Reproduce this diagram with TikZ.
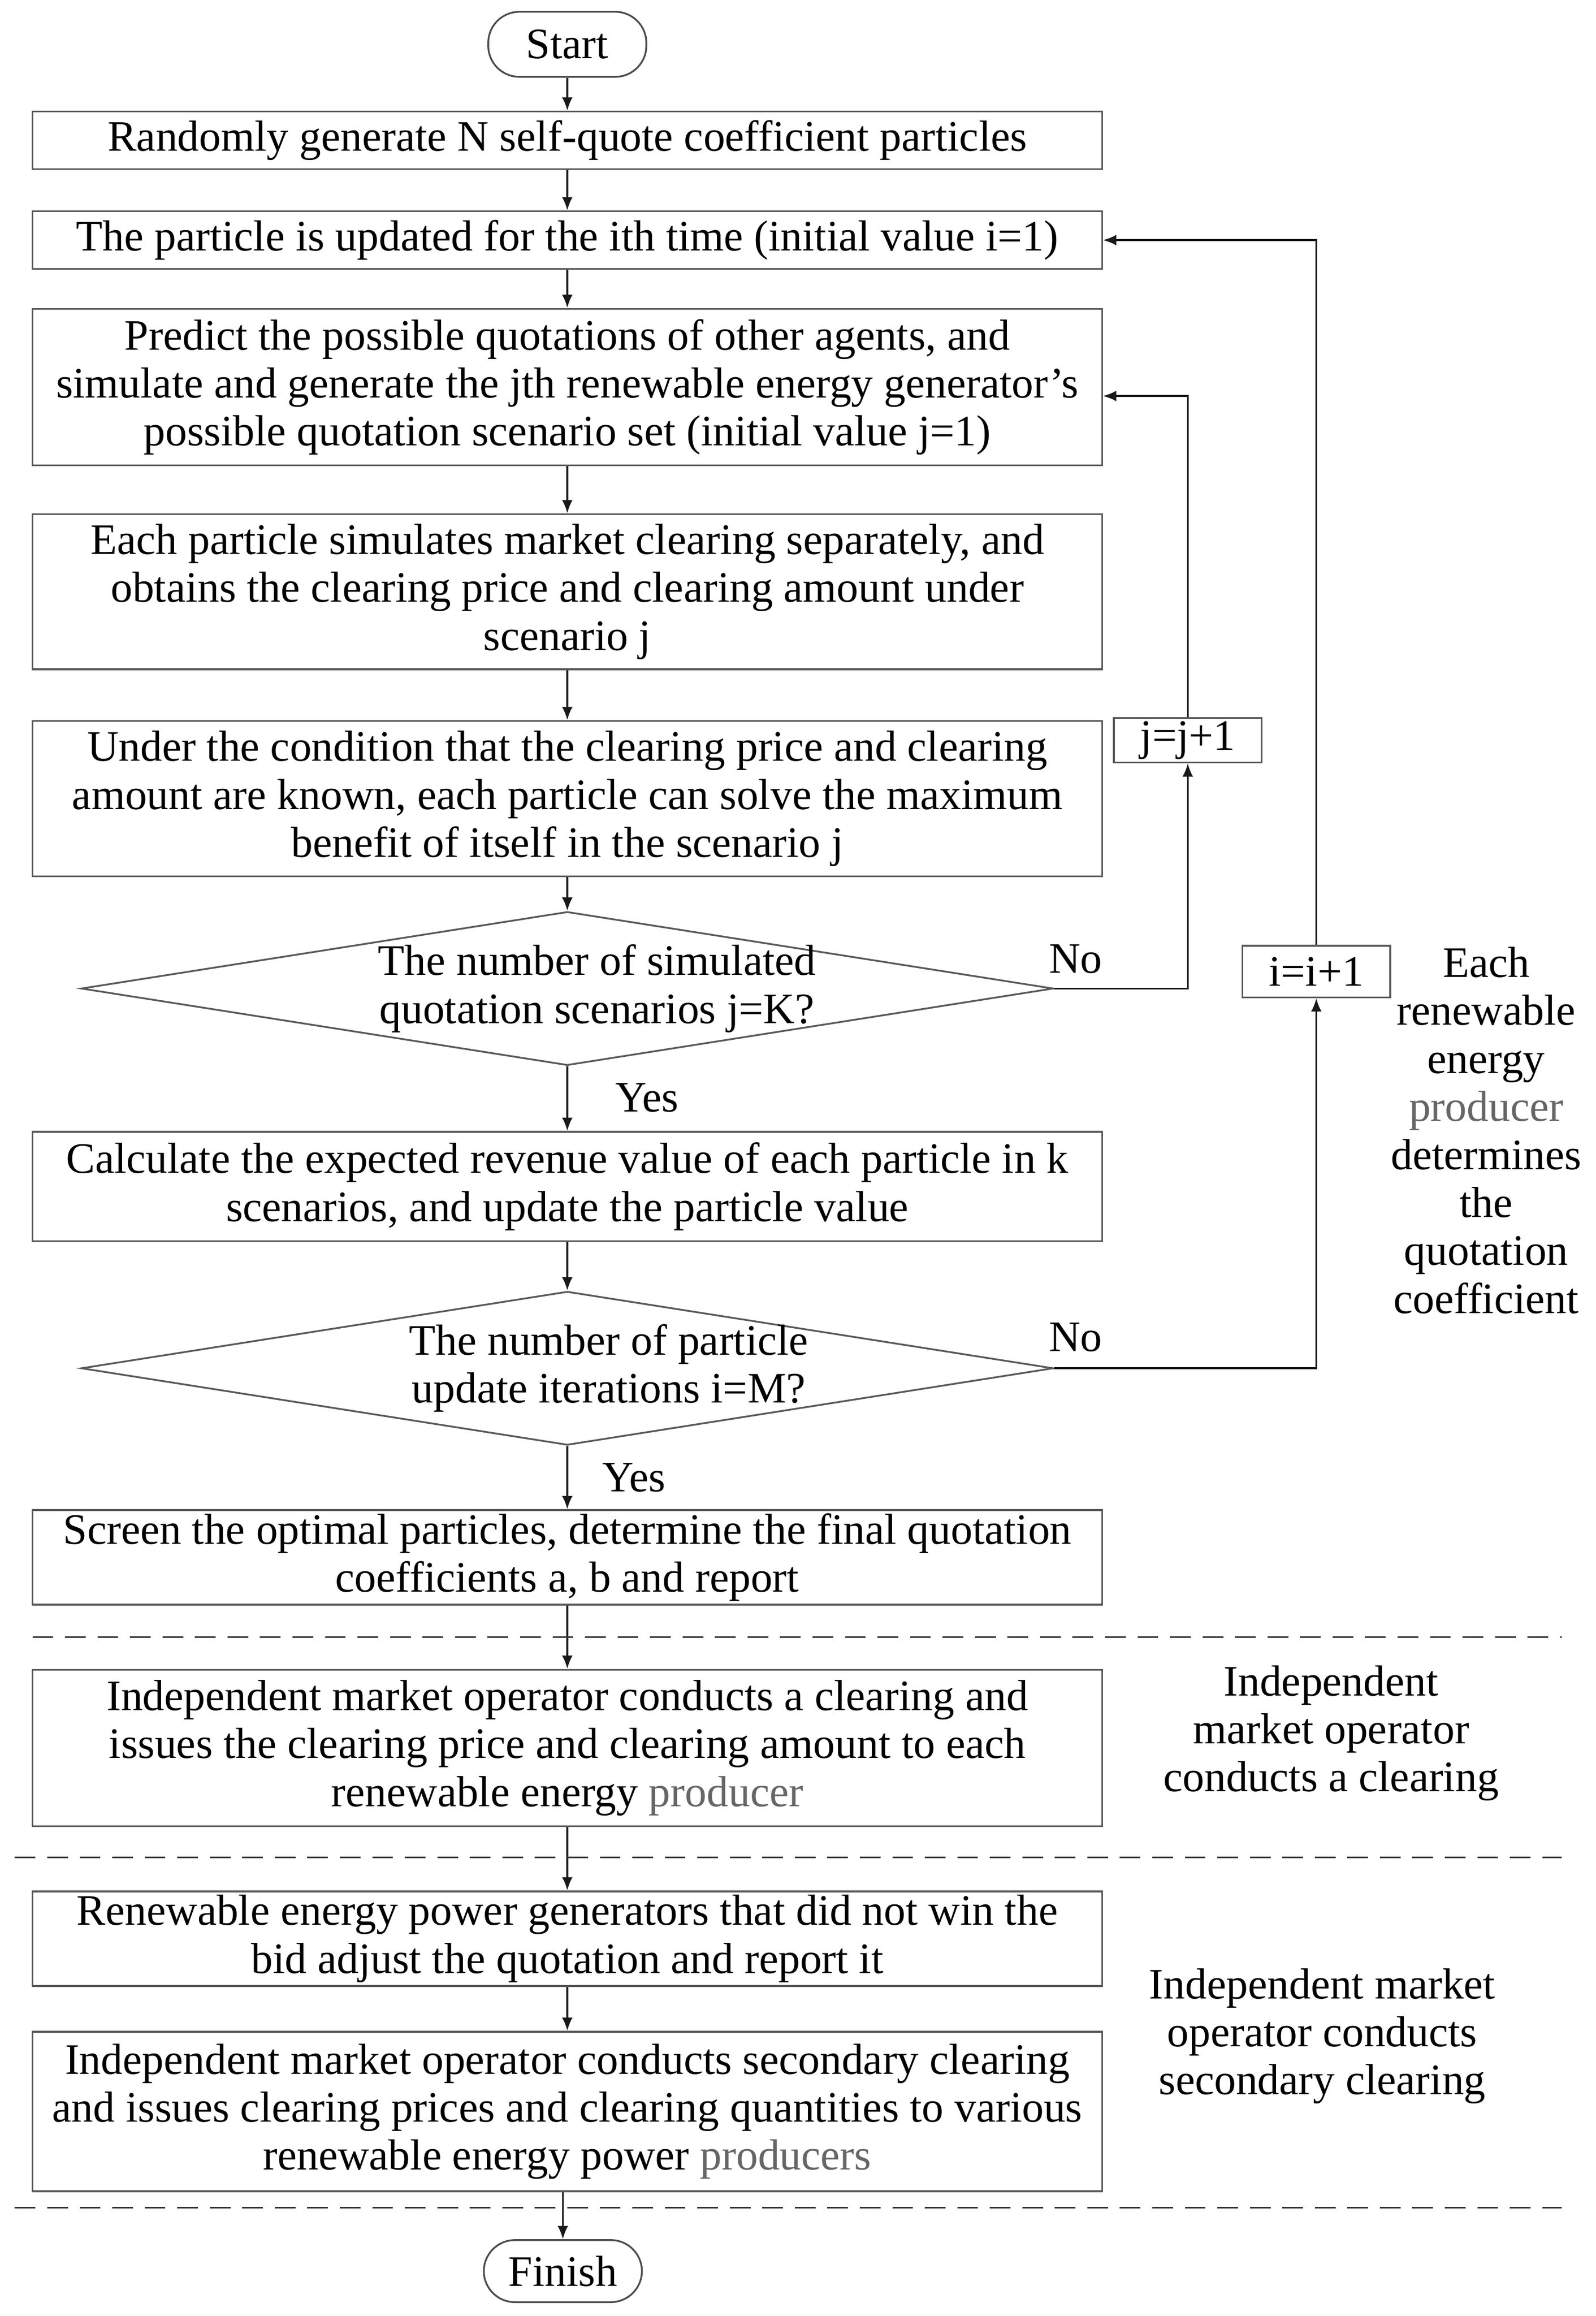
\documentclass[tikz,border=0pt]{standalone}
\usepackage{fontspec}
\setmainfont{Liberation Serif}
\usetikzlibrary{arrows.meta,shapes.geometric}
\begin{document}
\begin{tikzpicture}[x=0.5pt,y=-0.5pt,
  txt/.style={font=\fontsize{14.7}{16.25}\selectfont, inner sep=0pt, align=center},
  box/.style={txt, draw=black!65, line width=0.6pt, minimum width=362pt},
  term/.style={txt, draw=black!70, line width=0.6pt, rounded corners=10.5pt, minimum width=53.5pt},
  dia/.style={diamond, draw=black!65, line width=0.6pt, inner sep=0pt, minimum width=329pt, minimum height=52pt},
  small/.style={txt, draw=black!65, line width=0.6pt, minimum width=50pt, minimum height=15pt},
  arr/.style={-{Latex[length=4.5pt,width=3.6pt]}, line width=0.6pt, black!90},
  sep/.style={dash pattern=on 7pt off 4pt, line width=0.6pt, black!80},
  ann/.style={txt}
]
\useasboundingbox (0,0) rectangle (1080,1567.4);

\node[term, minimum height=22pt] (start) at (384,30) {Start};
\node[box, minimum height=19.5pt] (b1) at (384,95) {Randomly generate N self-quote coefficient particles};
\node[box, minimum height=19.5pt] (b2) at (384,162.5) {The particle is updated for the ith time (initial value i=1)};
\node[box, minimum height=53pt] (b3) at (384,262) {Predict the possible quotations of other agents, and\\simulate and generate the jth renewable energy generator's\\possible quotation scenario set (initial value j=1)};
\node[box, minimum height=52.5pt] (b4) at (384,400.5) {Each particle simulates market clearing separately, and\\obtains the clearing price and clearing amount under\\scenario j};
\node[box, minimum height=52.5pt] (b5) at (384,540.5) {Under the condition that the clearing price and clearing\\amount are known, each particle can solve the maximum\\benefit of itself in the scenario j};
\node[dia] (d1) at (384,669) {};
\node[txt] (d1t) at (404,669) {The number of simulated\\quotation scenarios j=K?};
\node[box, minimum height=37pt] (b6) at (384,803) {Calculate the expected revenue value of each particle in k\\scenarios, and update the particle value};
\node[dia] (d2) at (384,926) {};
\node[txt] (d2t) at (412,926) {The number of particle\\update iterations i=M?};
\node[box, minimum height=32pt] (b7) at (384,1054) {Screen the optimal particles, determine the final quotation\\coefficients a, b and report};
\node[box, minimum height=53pt] (b8) at (384,1183) {Independent market operator conducts a clearing and\\issues the clearing price and clearing amount to each\\renewable  energy \textcolor{black!60}{producer}};
\node[box, minimum height=32pt] (b9) at (384,1312) {Renewable energy power generators that did not win the\\bid adjust the quotation and report it};
\node[box, minimum height=54pt] (b10) at (384,1429) {Independent market operator conducts secondary clearing\\and issues clearing prices and clearing quantities to various\\renewable energy power \textcolor{black!60}{producers}};
\node[term, minimum height=21pt] (fin) at (381,1537) {Finish};

\node[small] (jb) at (804,501) {j=j+1};
\node[small, minimum height=17.5pt] (ib) at (891,657.5) {i=i+1};

\node[txt] (noa) at (728,649) {No};
\node[txt] (nob) at (728,905) {No};
\node[txt] (yesa) at (438,743) {Yes};
\node[txt] (yesb) at (429,1000) {Yes};

\node[ann] (an1) at (1006,765) {Each\\renewable\\energy\\\textcolor{black!60}{producer}\\determines\\the\\quotation\\coefficient};
\node[ann] (an2) at (901,1173) {Independent\\market operator\\conducts a clearing};
\node[ann] (an3) at (895,1378) {Independent market\\operator conducts\\secondary clearing};

\draw[arr] (start) -- (b1);
\draw[arr] (b1) -- (b2);
\draw[arr] (b2) -- (b3);
\draw[arr] (b3) -- (b4);
\draw[arr] (b4) -- (b5);
\draw[arr] (b5) -- (d1);
\draw[arr] (d1) -- (b6);
\draw[arr] (b6) -- (d2);
\draw[arr] (d2) -- (b7);
\draw[arr] (b7) -- (b8);
\draw[arr] (b8) -- (b9);
\draw[arr] (b9) -- (b10);
\draw[arr] (b10.south -| fin.north) -- (fin.north);

\draw[arr] (d1.east) -| (jb.south);
\draw[arr] (jb.north) |- ([yshift=-3pt]b3.east);
\draw[arr] (d2.east) -| (ib.south);
\draw[arr] (ib.north) |- (b2.east);

\draw[sep] (22,1108) -- (1057,1108);
\draw[sep] (10,1257) -- (1057,1257);
\draw[sep] (10,1494) -- (1057,1494);
\end{tikzpicture}
\end{document}
